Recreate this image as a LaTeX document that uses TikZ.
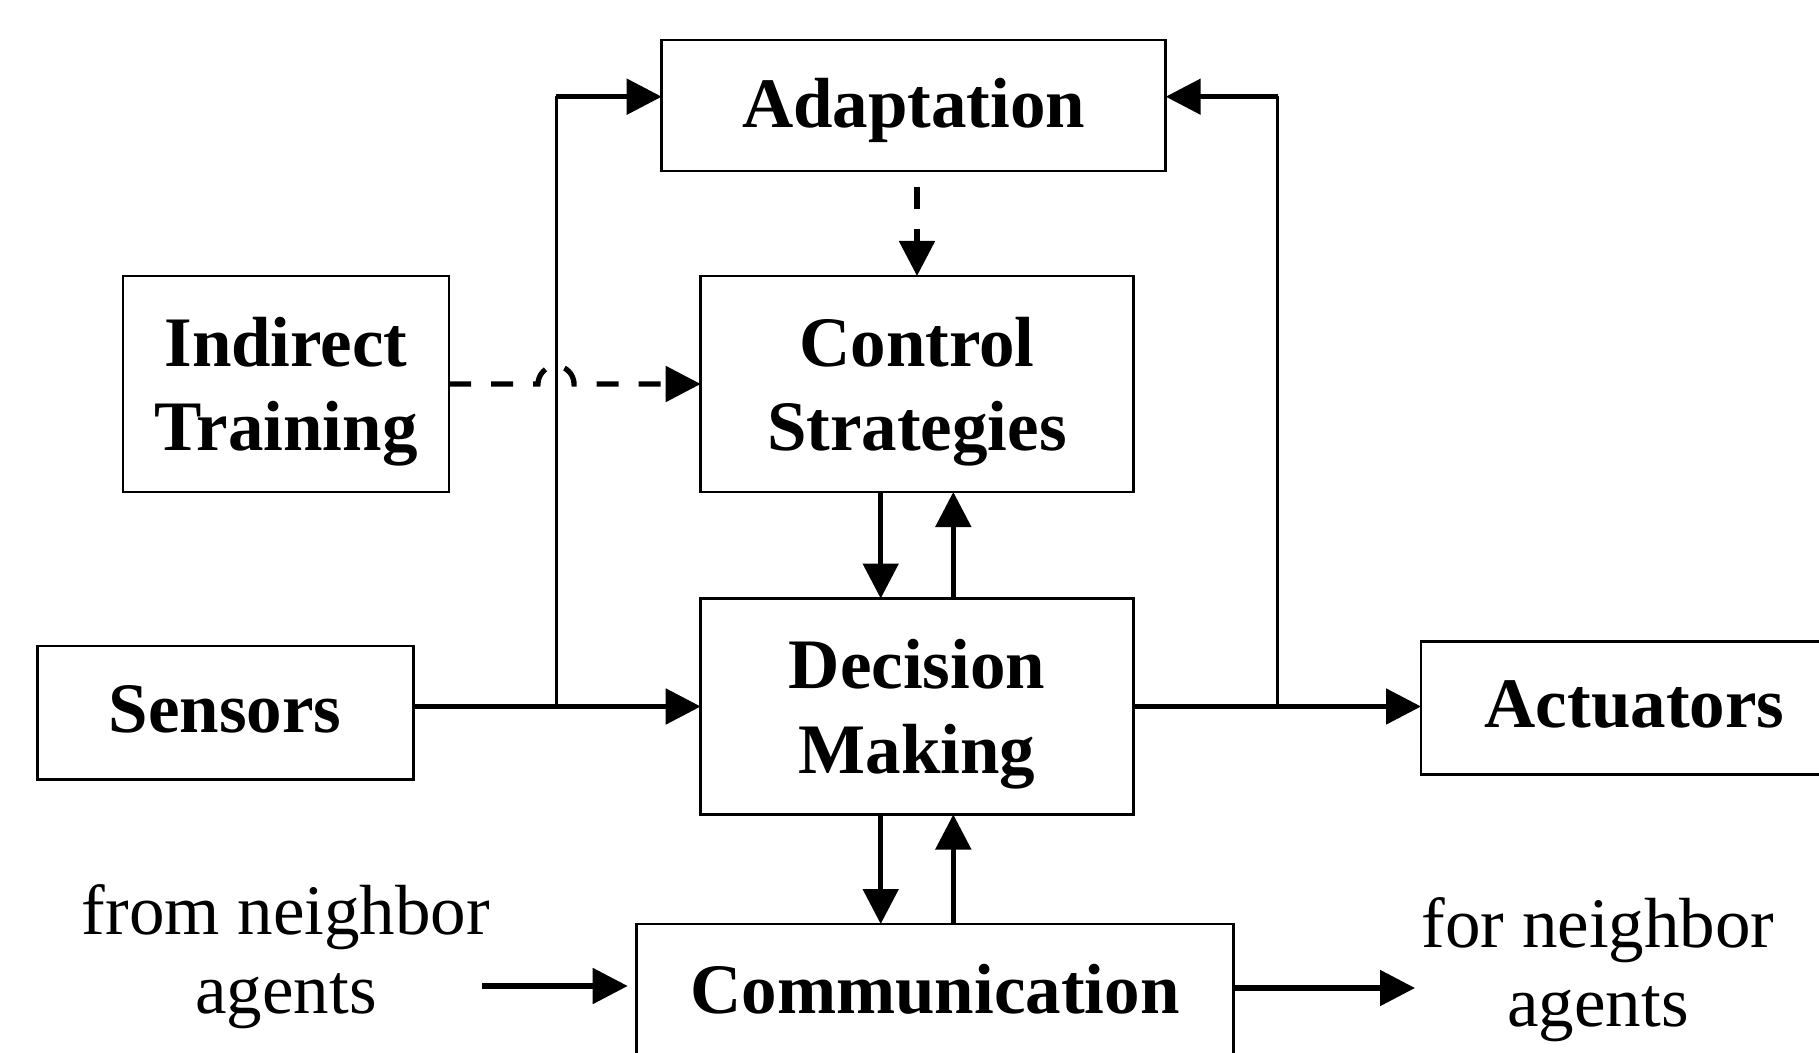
\documentclass[tikz,border=0pt]{standalone}
\usepackage{fontspec}
\setmainfont{Liberation Serif}
\usetikzlibrary{arrows.meta,calc}
\newcommand{\twol}[2]{\raisebox{-3.75pt}[\height][\depth]{\begin{tabular}{@{}c@{}}#1\\#2\end{tabular}}}
\newcommand{\shiftl}[2]{\raisebox{#1}[\height][\depth]{#2}}
\begin{document}
\begin{tikzpicture}[x=0.5pt,y=-0.5pt,
  box/.style={draw, line width=1.35pt, inner sep=0pt, outer sep=0pt, align=center,
    font=\fontsize{35.5pt}{42.5pt}\selectfont\bfseries},
  arr/.style={line width=2.6pt, -{Triangle[length=17.5pt,width=17.5pt]}},
  thinline/.style={line width=1.5pt, line cap=round},
  dasharr/.style={line width=2.6pt, dash pattern=on 11pt off 10pt,
    -{Triangle[length=17.5pt,width=17.5pt]}},
  lbl/.style={align=center, inner sep=0pt, font=\fontsize{35.5pt}{39.5pt}\selectfont}]
\useasboundingbox (0,0) rectangle (1819,1053);
\fill[white] (0,0) rectangle (1819,1053);
\clip (0,0) rectangle (1819,1053);

% boxes
\node[box, minimum width=252pt, minimum height=65.5pt] (adapt) at (913.7,105.5) {\shiftl{-2.6pt}{Adaptation}};
\node[box, minimum width=216.3pt, minimum height=108pt] (cs) at (917,384) {\twol{Control}{Strategies}};
\node[box, minimum width=163pt, minimum height=108pt] (it) at (286,384) {\twol{Indirect}{Training}};
\node[box, minimum width=216.3pt, minimum height=108pt] (dm) at (917,706.5) {\twol{Decision}{Making}};
\node[box, minimum width=188pt, minimum height=66.7pt] (sens) at (225.2,712.7) {\shiftl{1.6pt}{Sensors}};
\node[box, minimum width=213.5pt, minimum height=66.3pt] (act) at (1634.5,708) {\shiftl{1.8pt}{Actuators}};
\node[box, minimum width=298.3pt, minimum height=67pt] (comm) at (935,991) {\shiftl{0.8pt}{Communication}};

% free texts
\node[lbl] (fromtxt) at (286,956.5) {from neighbor\\agents};
\node[lbl] (fortxt) at (1598,969.5) {for neighbor\\agents};

% helper coordinates
\coordinate (bl) at (556,706.5);
\coordinate (tl) at (556,96.7);
\coordinate (br) at (1277.7,706.5);
\coordinate (tr) at (1277.7,96.7);
\coordinate (hop) at (556,384);
\coordinate (fa) at (482,986);
\coordinate (fb) at (1415,988);

% connectors
\draw[arr] (sens.east |- dm.west) -- (dm.west);
\draw[thinline] (bl) -- (tl);
\draw[arr] (tl) -- (tl -| adapt.west);
\draw[arr] (dm.east) -- (dm.east -| act.west);
\draw[thinline] (br) -- (tr);
\draw[arr] (tr) -- (tr -| adapt.east);

\draw[dasharr, shorten <=8pt] (adapt.south -| cs.north) -- (cs.north);
\draw[dasharr] (it.east) -- ([xshift=-9pt]hop) arc[start angle=180,end angle=0,radius=9pt] -- (cs.west);

\draw[arr] ([xshift=-18.15pt]cs.south) -- ([xshift=-18.15pt]dm.north);
\draw[arr] ([xshift=18.15pt]dm.north) -- ([xshift=18.15pt]cs.south);
\draw[arr] ([xshift=-18.15pt]dm.south) -- ([xshift=-18.15pt]dm.south |- comm.north);
\draw[arr] ([xshift=18.15pt]dm.south |- comm.north) -- ([xshift=18.15pt]dm.south);

\draw[arr, shorten >=4.5pt] (fa) -- (fa -| comm.west);
\draw[arr] (comm.east |- fb) -- (fb);
\end{tikzpicture}
\end{document}
